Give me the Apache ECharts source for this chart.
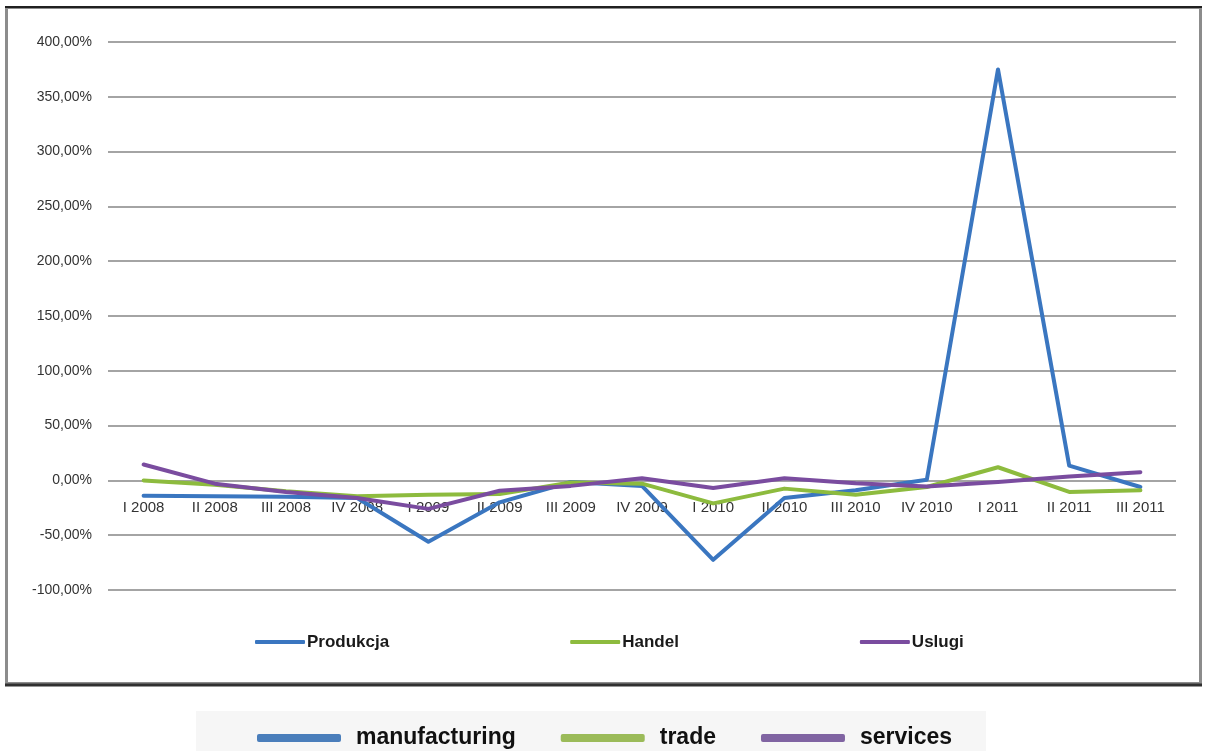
<!DOCTYPE html>
<html>
<head>
<meta charset="utf-8">
<script src="https://cdn.jsdelivr.net/npm/echarts@6/dist/echarts.min.js"></script>
<style>
  html, body { margin: 0; padding: 0; background: #ffffff; }
  #chart { width: 1205px; height: 751px; }
</style>
</head>
<body>
<div id="chart"></div>
<script>
// Quarterly change by sector, 2008-2011 (%)
const quarters = ['I 2008', 'II 2008', 'III 2008', 'IV 2008',
                  'I 2009', 'II 2009', 'III 2009', 'IV 2009',
                  'I 2010', 'II 2010', 'III 2010', 'IV 2010',
                  'I 2011', 'II 2011', 'III 2011'];

const produkcja = [-14, -14.5, -15, -16, -56, -20, -1.5, -5, -72.5, -16, -9, 0.6, 375, 13.5, -6];
const handel    = [0, -4, -10, -14.5, -13, -12.5, -2, -3, -21, -7.5, -13, -6, 12, -10.5, -9];
const uslugi    = [14.5, -3, -10.5, -16, -26, -9.5, -5, 2, -7, 2, -2.5, -5.5, -1.5, 3.5, 7.5];

const seriesNames = ['Produkcja', 'Handel', 'Uslugi'];
const englishNames = ['manufacturing', 'trade', 'services'];

const lineColors = ['#3a76c0', '#8dbb3e', '#7a4c9f'];
const keyColors  = ['#4a7ebb', '#9bbb59', '#8064a2'];

const yMin = -100, yMax = 400, yStep = 50;

const gridTop = 42, gridBottomY = 590;

const chart = echarts.init(document.getElementById('chart'), null, { renderer: 'canvas' });

const sans = '"Liberation Sans", Arial, sans-serif';

const seriesValues = [produkcja, handel, uslugi];

const dataSeries = seriesNames.map((name, i) => ({
  name: name,
  type: 'line',
  data: seriesValues[i],
  symbol: 'none',
  smooth: false,
  z: 3 + i,
  lineStyle: { color: lineColors[i], width: 4, cap: 'round', join: 'round' },
  itemStyle: { color: lineColors[i] },
  emphasis: { disabled: true }
}));

// Key entries for the English caption below the frame (no marks of their own)
const keySeries = englishNames.map((name, i) => ({
  name: name,
  type: 'line',
  data: [],
  symbol: 'none',
  lineStyle: { color: keyColors[i], width: 8 },
  itemStyle: { color: keyColors[i] }
}));

// Category labels sit just under the 0% line: shift the axis up from the plot bottom
const zeroOffset = -(gridBottomY - gridTop) * (0 - yMin) / (yMax - yMin);

chart.setOption({
  animation: false,
  backgroundColor: '#ffffff',
  grid: { left: 108, right: 29, top: gridTop, bottom: 751 - gridBottomY, containLabel: false },
  xAxis: {
    type: 'category',
    data: quarters,
    boundaryGap: true,
    offset: zeroOffset,
    axisLine: { show: false, onZero: false },
    axisTick: { show: false },
    axisLabel: {
      interval: 0,
      margin: 20,
      color: '#333333',
      fontFamily: sans,
      fontSize: 15
    },
    splitLine: { show: false }
  },
  yAxis: {
    type: 'value',
    min: yMin,
    max: yMax,
    interval: yStep,
    axisLine: { show: false },
    axisTick: { show: false },
    axisLabel: {
      margin: 16,
      color: '#333333',
      fontFamily: sans,
      fontSize: 14,
      formatter: v => v.toFixed(2).replace('.', ',') + '%'
    },
    splitLine: { show: true, lineStyle: { color: '#868686', width: 1.5 } }
  },
  legend: [
    {
      data: seriesNames,
      left: 250,
      top: 626,
      icon: 'roundRect',
      itemWidth: 50,
      itemHeight: 4,
      itemGap: 181,
      textStyle: { color: '#1a1a1a', fontFamily: sans, fontWeight: 'bold', fontSize: 17, lineHeight: 22, padding: [0, 0, 0, -3] },
      selectedMode: false
    },
    {
      data: englishNames,
      left: 252,
      top: 721,
      icon: 'roundRect',
      itemWidth: 84,
      itemHeight: 8,
      itemGap: 45,
      textStyle: { color: '#111111', fontFamily: sans, fontWeight: 'bold', fontSize: 23, lineHeight: 24, padding: [0, 0, 0, 10] },
      selectedMode: false
    }
  ],
  graphic: [
    { type: 'rect', z: -10, silent: true, shape: { x: 196, y: 711, width: 790, height: 40 }, style: { fill: '#f6f6f6' } },
    { type: 'rect', z: 10, silent: true, shape: { x: 6.5, y: 7.5, width: 1194, height: 676 }, style: { fill: 'none', stroke: '#8c8c8c', lineWidth: 3 } },
    { type: 'line', z: 11, silent: true, shape: { x1: 5, y1: 7, x2: 1202, y2: 7 }, style: { stroke: '#202020', lineWidth: 2 } },
    { type: 'line', z: 11, silent: true, shape: { x1: 5, y1: 685, x2: 1202, y2: 685 }, style: { stroke: '#303030', lineWidth: 3 } }
  ],
  series: dataSeries.concat(keySeries)
});
</script>
</body>
</html>
